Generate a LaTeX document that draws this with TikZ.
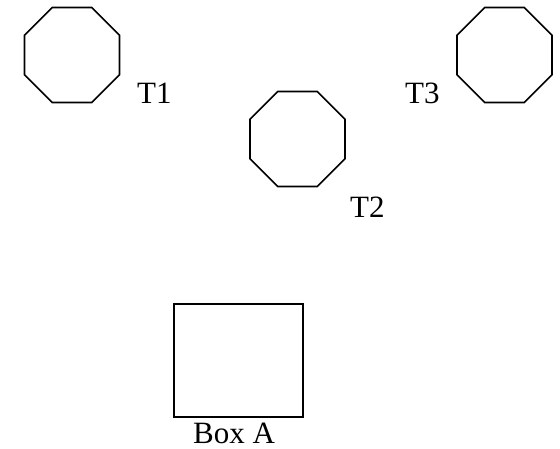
\documentclass[tikz,border=0pt]{standalone}
\usepackage{fontspec}
\setmainfont{Liberation Serif}
\usetikzlibrary{positioning,shapes.geometric}
\tikzset{
	oct/.style={regular polygon,regular polygon sides=8,draw=black,line width=1.7pt,
		minimum size=103pt,inner sep=0pt},
	boxa/.style={rectangle,draw=black,line width=1.6pt,minimum width=129pt,
		minimum height=113pt,inner sep=0pt},
	lbl/.style={inner sep=0pt,font=\fontsize{31}{36}\selectfont},
}

\begin{document}
\begin{tikzpicture}[x=1pt,y=-1pt]
	\useasboundingbox (0,0) rectangle (560,449);
	% the three tanks
	\foreach \n/\x/\y in {t1/72/55,t2/297.5/139,t3/504.5/55}
	\node[oct] (\n) at (\x,\y) {};
	\foreach \n/\x/\y/\t in {t1lab/137/104/T1,t2lab/350/218/T2,t3lab/405/104/T3}
	\node[lbl,anchor=base west] (\n) at (\x,\y) {\t};
	% the box
	\node[boxa] (box) at (238.5,360.5) {};
	\node[lbl,anchor=base] (boxlab) at (234,443) {Box A};
\end{tikzpicture}
\end{document}
